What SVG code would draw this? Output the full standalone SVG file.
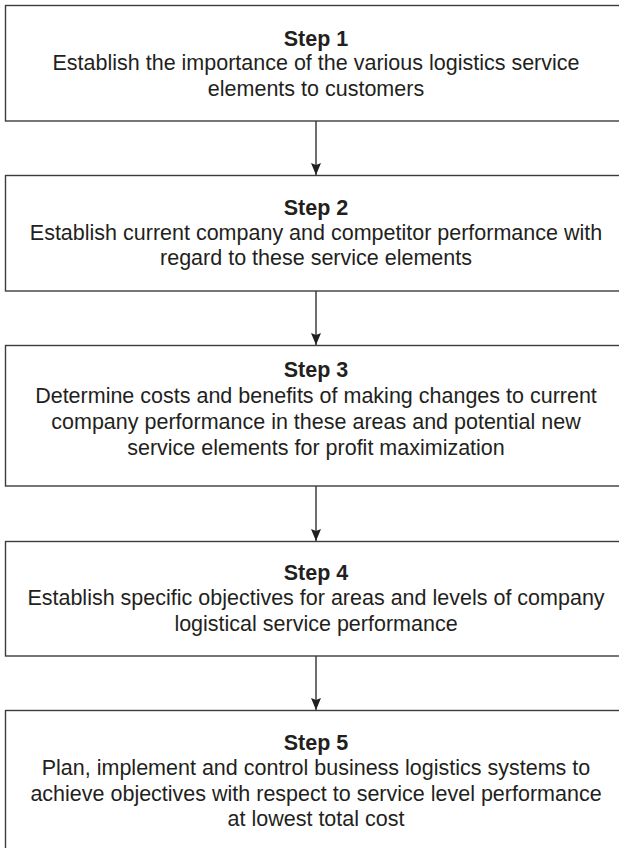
<svg xmlns="http://www.w3.org/2000/svg" width="619" height="848" viewBox="0 0 619 848">
<style>
.box{fill:#fff;stroke:#3c3c3c;stroke-width:1.4}
.t{font-family:"Liberation Sans",Arial,Helvetica,sans-serif;font-size:21.5px;fill:#231f20;text-anchor:middle}
.b{font-weight:bold}
.c{stroke:#231f20;stroke-width:1.3;fill:none}
</style>
<defs>
<marker id="ah" viewBox="0 0 12 12" refX="12" refY="6" markerWidth="12" markerHeight="12" markerUnits="userSpaceOnUse" orient="auto">
<path d="M0,1 L12,6 L0,11 L2,6 Z" fill="#231f20"/>
</marker>
</defs>
<rect width="619" height="848" fill="#fff"/>
<g id="connectors">
<line class="c" x1="316" y1="121" x2="316" y2="175" marker-end="url(#ah)"/>
<line class="c" x1="316" y1="291" x2="316" y2="345" marker-end="url(#ah)"/>
<line class="c" x1="316" y1="486" x2="316" y2="541" marker-end="url(#ah)"/>
<line class="c" x1="316" y1="656" x2="316" y2="710" marker-end="url(#ah)"/>
</g>
<g id="step1">
<rect class="box" x="5.5" y="5.5" width="621" height="115.5"/>
<text class="t b" x="316" y="46">Step 1</text>
<text class="t" x="316" y="70">Establish the importance of the various logistics service</text>
<text class="t" x="316" y="96">elements to customers</text>
</g>
<g id="step2">
<rect class="box" x="5.5" y="175.5" width="621" height="115.5"/>
<text class="t b" x="316" y="215">Step 2</text>
<text class="t" x="316" y="240">Establish current company and competitor performance with</text>
<text class="t" x="316" y="265">regard to these service elements</text>
</g>
<g id="step3">
<rect class="box" x="5.5" y="345.5" width="621" height="140.5"/>
<text class="t b" x="316" y="377">Step 3</text>
<text class="t" x="316" y="403">Determine costs and benefits of making changes to current</text>
<text class="t" x="316" y="429">company performance in these areas and potential new</text>
<text class="t" x="316" y="455">service elements for profit maximization</text>
</g>
<g id="step4">
<rect class="box" x="5.5" y="541.5" width="621" height="114.5"/>
<text class="t b" x="316" y="580">Step 4</text>
<text class="t" x="316" y="605">Establish specific objectives for areas and levels of company</text>
<text class="t" x="316" y="631">logistical service performance</text>
</g>
<g id="step5">
<rect class="box" x="5.5" y="710.5" width="621" height="141"/>
<text class="t b" x="316" y="750">Step 5</text>
<text class="t" x="316" y="775">Plan, implement and control business logistics systems to</text>
<text class="t" x="316" y="801">achieve objectives with respect to service level performance</text>
<text class="t" x="316" y="826">at lowest total cost</text>
</g>
</svg>
